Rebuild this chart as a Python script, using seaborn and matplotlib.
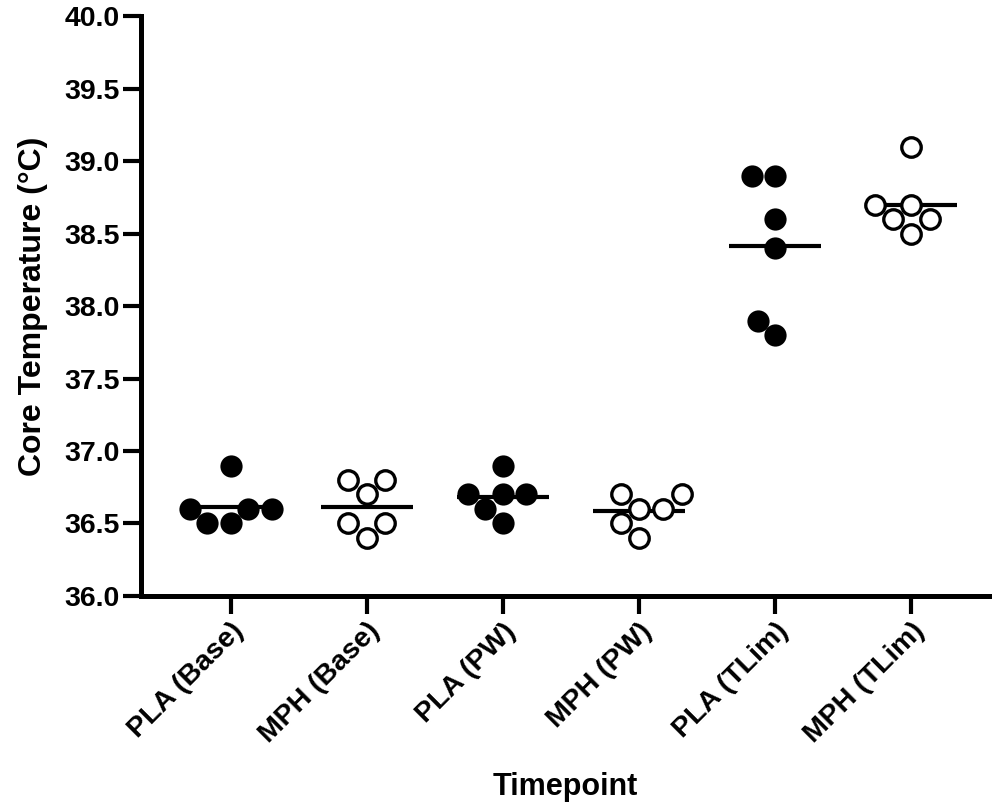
import matplotlib
matplotlib.use('Agg')
import matplotlib.pyplot as plt
import pandas as pd
import seaborn as sns

# Values (°C)
timepoints = ['PLA (Base)', 'MPH (Base)', 'PLA (PW)', 'MPH (PW)', 'PLA (TLim)', 'MPH (TLim)']
pla_base = [36.9, 36.6, 36.6, 36.6, 36.5, 36.5]
mph_base = [36.8, 36.8, 36.7, 36.5, 36.5, 36.4]
pla_pw = [36.9, 36.7, 36.7, 36.7, 36.6, 36.5]
mph_pw = [36.7, 36.7, 36.6, 36.6, 36.5, 36.4]
pla_tlim = [38.9, 38.9, 38.6, 38.4, 37.9, 37.8]
mph_tlim = [39.1, 38.7, 38.7, 38.6, 38.6, 38.5]
y_ticks = [36.0, 36.5, 37.0, 37.5, 38.0, 38.5, 39.0, 39.5, 40.0]

values = [pla_base, mph_base, pla_pw, mph_pw, pla_tlim, mph_tlim]
df = pd.DataFrame({
    'timepoint': [t for t, v in zip(timepoints, values) for _ in v],
    'temp': [x for v in values for x in v],
})
df['drug'] = df.timepoint.str[:3]

sns.set_style('ticks')
plt.rcParams['font.family'] = ['Liberation Sans', 'DejaVu Sans']
plt.rcParams['font.weight'] = 'bold'
plt.rcParams['axes.labelweight'] = 'bold'
for k in ['text.color', 'axes.labelcolor', 'xtick.color', 'ytick.color', 'axes.edgecolor']:
    plt.rcParams[k] = 'black'

fig, ax = plt.subplots(figsize=(9.92, 8.07), dpi=100)
fig.subplots_adjust(left=0.142, right=0.997, bottom=0.2615, top=0.98)

# filled = placebo, open = methylphenidate
sns.swarmplot(data=df[df.drug == 'PLA'], x='timepoint', y='temp', order=timepoints,
              color='black', size=16, linewidth=0, ax=ax)
sns.swarmplot(data=df[df.drug == 'MPH'], x='timepoint', y='temp', order=timepoints,
              color='white', edgecolor='black', size=14, linewidth=2.4, ax=ax)
# mean line
sns.pointplot(data=df, x='timepoint', y='temp', order=timepoints, errorbar=None,
              color='black', marker='_', linestyle='none', markersize=66,
              markeredgewidth=3, ax=ax)

ax.set_xlim(-0.66, 5.57)
ax.set_ylim(36, 40)
ax.set_yticks(y_ticks)
ax.set_yticklabels([f'{t:.1f}' for t in y_ticks])
ax.set_xticks(range(len(timepoints)))
ax.set_xticklabels(timepoints, rotation=45, ha='right', rotation_mode='anchor')

sns.despine(ax=ax)
for s in ['left', 'bottom']:
    ax.spines[s].set_linewidth(3.6)
ax.tick_params(axis='both', length=13, width=3, labelsize=20.5)
ax.tick_params(axis='y', pad=2)
ax.tick_params(axis='x', pad=3)

ax.set_ylabel('Core Temperature (°C)', fontsize=23, labelpad=12)
ax.set_xlabel('Timepoint', fontsize=22, labelpad=17)

fig.savefig('out.png', dpi=100)
